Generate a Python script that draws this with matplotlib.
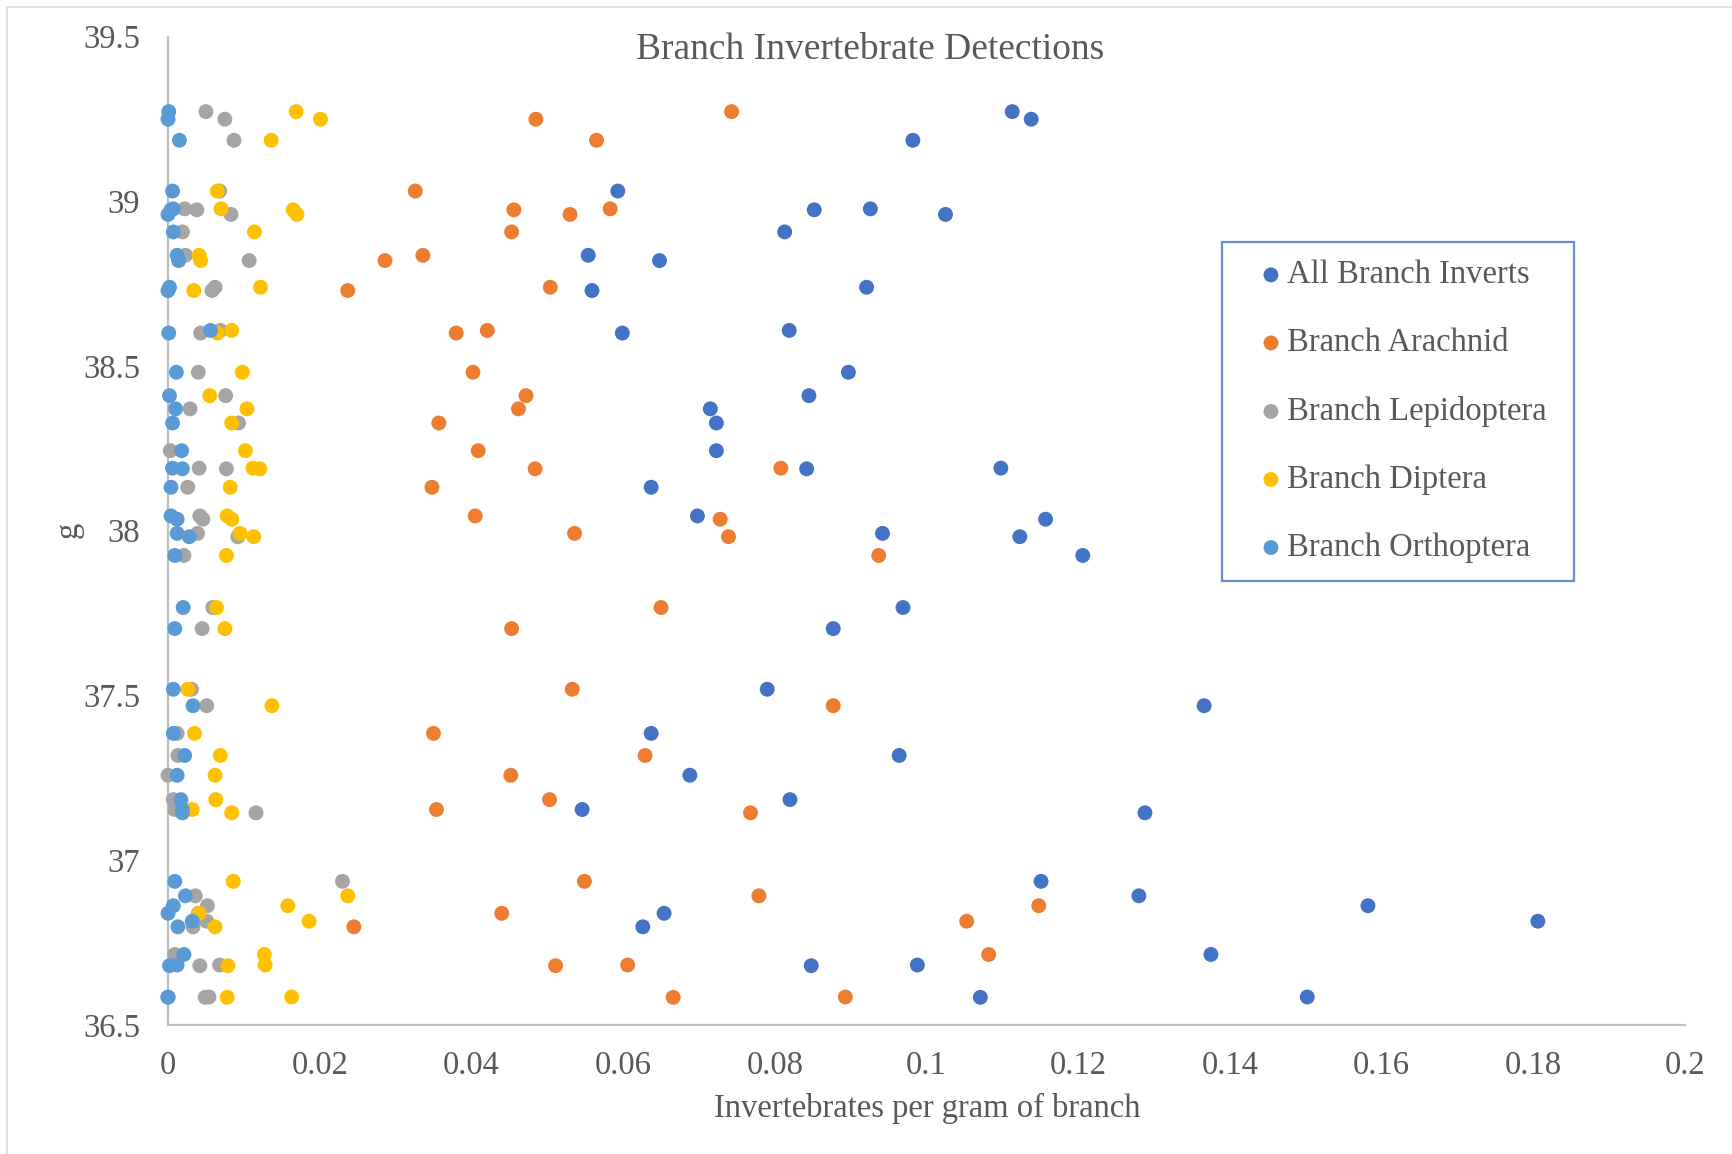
import matplotlib
matplotlib.use("Agg")
import matplotlib.pyplot as plt
from matplotlib.ticker import FuncFormatter
from matplotlib.patches import Rectangle

# ---- data (y = "g", x = invertebrates per gram of branch) ----
site_g = [39.272, 39.249, 39.185, 39.031, 38.977, 38.974, 38.960, 38.907,
          38.836, 38.820, 38.739, 38.729, 38.608, 38.600, 38.481, 38.410,
          38.370, 38.327, 38.243, 38.190, 38.188, 38.132, 38.045, 38.035,
          37.992, 37.982, 37.925, 37.767, 37.703, 37.519, 37.469, 37.385,
          37.318, 37.258, 37.184, 37.154, 37.144, 36.936, 36.892, 36.862,
          36.839, 36.815, 36.798, 36.714, 36.680, 36.682, 36.584, 36.585]

all_inverts = [0.1113, 0.1138, 0.0982, 0.0593, 0.0926, 0.0852, 0.1025, 0.0813,
               0.0554, 0.0648, 0.0921, 0.0559, 0.0819, 0.0599, 0.0897, 0.0845,
               0.0715, 0.0723, 0.0723, 0.1098, 0.0842, 0.0637, 0.0698, 0.1157,
               0.0942, 0.1123, 0.1206, 0.0969, 0.0877, 0.0790, 0.1366, 0.0637,
               0.0964, 0.0688, 0.0820, 0.0546, 0.1288, 0.1151, 0.1280, 0.1582,
               0.0654, 0.1806, 0.0626, 0.1375, 0.0848, 0.0988, 0.1071, 0.1502]

arachnid = [0.0743, 0.0485, 0.0565, 0.0326, 0.0583, 0.0456, 0.0530, 0.0453,
            0.0336, 0.0286, 0.0504, 0.0237, 0.0421, 0.0380, 0.0402, 0.0472,
            0.0462, 0.0357, 0.0409, 0.0808, 0.0484, 0.0348, 0.0405, 0.0728,
            0.0536, 0.0739, 0.0937, 0.0650, 0.0453, 0.0533, 0.0877, 0.0350,
            0.0629, 0.0452, 0.0503, 0.0354, 0.0768, 0.0549, 0.0779, 0.1148,
            0.0440, 0.1053, 0.0245, 0.1082, 0.0511, 0.0606, 0.0666, 0.0893]

lepidoptera = [0.0050, 0.0075, 0.0087, 0.0068, 0.0022, 0.0038, 0.0083, 0.0019,
               0.0023, 0.0107, 0.0062, 0.0058, 0.0069, 0.0043, 0.0040, 0.0076,
               0.0029, 0.0093, 0.0003, 0.0041, 0.0077, 0.0026, 0.0042, 0.0046,
               0.0039, 0.0092, 0.0021, 0.0059, 0.0045, 0.0031, 0.0051, 0.0012,
               0.0013, 0.0000, 0.0007, 0.0009, 0.0116, 0.0230, 0.0036, 0.0052,
               0.0040, 0.0051, 0.0033, 0.0009, 0.0042, 0.0068, 0.0049, 0.0054]

diptera = [0.0169, 0.0201, 0.0136, 0.0065, 0.0070, 0.0165, 0.0170, 0.0114,
           0.0041, 0.0043, 0.0122, 0.0034, 0.0084, 0.0065, 0.0098, 0.0055,
           0.0104, 0.0084, 0.0102, 0.0112, 0.0121, 0.0082, 0.0078, 0.0084,
           0.0095, 0.0113, 0.0077, 0.0064, 0.0075, 0.0026, 0.0137, 0.0035,
           0.0069, 0.0062, 0.0063, 0.0032, 0.0084, 0.0086, 0.0237, 0.0158,
           0.0041, 0.0186, 0.0062, 0.0127, 0.0079, 0.0128, 0.0078, 0.0163]

orthoptera = [0.0001, 0.0000, 0.0015, 0.0006, 0.0007, 0.0004, 0.0000, 0.0007,
              0.0012, 0.0014, 0.0002, 0.0000, 0.0056, 0.0001, 0.0011, 0.0002,
              0.0010, 0.0006, 0.0018, 0.0006, 0.0019, 0.0004, 0.0004, 0.0012,
              0.0012, 0.0028, 0.0009, 0.0020, 0.0009, 0.0007, 0.0033, 0.0007,
              0.0022, 0.0012, 0.0017, 0.0019, 0.0019, 0.0009, 0.0023, 0.0007,
              0.0000, 0.0032, 0.0013, 0.0021, 0.0002, 0.0012, 0.0000, 0.0000]

series_names = ["All Branch Inverts", "Branch Arachnid", "Branch Lepidoptera",
                "Branch Diptera", "Branch Orthoptera"]
series_colors = ["#4472C4", "#ED7D31", "#A5A5A5", "#FFC000", "#5B9BD5"]
x_ticks = [0, 0.02, 0.04, 0.06, 0.08, 0.1, 0.12, 0.14, 0.16, 0.18, 0.2]
y_ticks = [36.5, 37, 37.5, 38, 38.5, 39, 39.5]

# ---- figure ----
plt.rcParams["font.family"] = ["Liberation Serif", "DejaVu Serif"]
W, H = 1732, 1154
fig = plt.figure(figsize=(W / 100, H / 100), dpi=100)
ax = fig.add_axes([168 / W, 1 - 1025 / H, (1685 - 168) / W, (1025 - 36.5) / H])

text_col = "#595959"
FS = 23.5
series = [all_inverts, arachnid, lepidoptera, diptera, orthoptera]
for vals, name, col in zip(series, series_names, series_colors):
    ax.scatter(vals, site_g, s=115, color=col, edgecolors="none", label=name,
               zorder=3, clip_on=False)

ax.set_xlim(0, 0.2)
ax.set_ylim(36.5, 39.5)
ax.set_xticks(x_ticks)
ax.set_yticks(y_ticks)
fmt = FuncFormatter(lambda v, p: ("%.2f" % v).rstrip("0").rstrip(".") if v != 0 else "0")
ax.xaxis.set_major_formatter(fmt)
ax.yaxis.set_major_formatter(fmt)
ax.tick_params(axis="both", length=0, labelsize=FS, labelcolor=text_col)
ax.tick_params(axis="x", pad=18)
ax.tick_params(axis="y", pad=20)
for s in ["top", "right"]:
    ax.spines[s].set_visible(False)
for s in ["left", "bottom"]:
    ax.spines[s].set_color("#BFBFBF")
    ax.spines[s].set_linewidth(1.6)

fig.text(870 / W, 1 - 50 / H, "Branch Invertebrate Detections", ha="center",
         va="center", fontsize=27, color=text_col)
fig.text(927 / W, 1 - 1108 / H, "Invertebrates per gram of branch", ha="center",
         va="center", fontsize=FS, color=text_col)
fig.text(68 / W, 1 - 530 / H, "g", ha="center", va="center", fontsize=FS,
         color=text_col, rotation=90)

leg = ax.legend(loc="upper left",
                bbox_to_anchor=(1222 / W, 1 - 580 / H, 352 / W, 338 / H),
                bbox_transform=fig.transFigure, mode="expand", borderaxespad=0,
                frameon=True, fancybox=False, fontsize=FS, labelspacing=1.15,
                handlelength=1.9, handletextpad=-0.45, borderpad=0.55,
                markerscale=1.0, labelcolor=text_col)
leg.get_frame().set_edgecolor("#4472C4")
leg.get_frame().set_linewidth(1.6)

fig.patches.append(Rectangle((7 / W, -0.01), 1.02, 1 - 7 / H + 0.01,
                             transform=fig.transFigure, fill=False,
                             edgecolor="#D9D9D9", linewidth=1.2))

fig.savefig("out.png", dpi=100, facecolor="white")
